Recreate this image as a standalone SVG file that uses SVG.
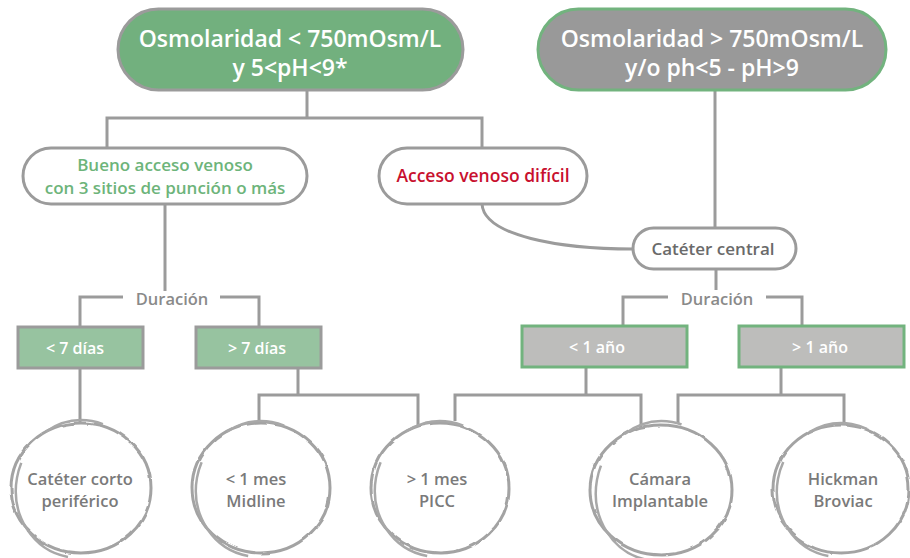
<svg xmlns="http://www.w3.org/2000/svg" width="910" height="558" viewBox="0 0 910 558">
<defs>
<filter id="rough" x="-10%" y="-10%" width="120%" height="120%">
<feTurbulence type="fractalNoise" baseFrequency="0.06" numOctaves="2" seed="3" result="n"/>
<feDisplacementMap in="SourceGraphic" in2="n" scale="3" xChannelSelector="R" yChannelSelector="G"/>
</filter>
</defs>
<style>
text{font-family:"Open Sans","Liberation Sans",sans-serif;font-weight:600;text-anchor:middle}
.conn{fill:none;stroke:#9b9b9b;stroke-width:3}
.top{font-size:23px;fill:#fff}
.pill{fill:#fff;stroke:#9b9b9b;stroke-width:3}
.box{font-size:16px;fill:#fff}
.gbox{fill:#97c3a0;stroke:#9b9b9b;stroke-width:3}
.ybox{fill:#bdbdbb;stroke:#72b37e;stroke-width:3}
.ring{fill:#fff;stroke:#a3a3a3;stroke-width:3}
.ring2{fill:none;stroke:#a8a8a8;stroke-width:2.5;stroke-dasharray:120 40 60 200}
.ct{font-size:16.5px;fill:#7a7a7a}
.dur{font-size:16.5px;fill:#8a8a8a}
</style>
<g id="connectors">
<path class="conn" d="M307 90V118M107 147V118H482V148"/>
<path class="conn" d="M715 90V228"/>
<path class="conn" d="M482 204C484 236 560 249 633 249"/>
<path class="conn" d="M165 204V291"/>
<path class="conn" d="M123 297H80V327M220 297H259V327"/>
<path class="conn" d="M716 269V290"/>
<path class="conn" d="M668 297H623V326M766 297H802V326"/>
<path class="conn" d="M80 368V422"/>
<path class="conn" d="M298 368V395M259 423V395H418V426"/>
<path class="conn" d="M586 367V395M455 421V395H641V428"/>
<path class="conn" d="M781 367V395M678 424V395H844V426"/>
</g>
<g id="n-osm-low">
<rect x="118" y="9" width="345" height="81" rx="40.5" fill="#72b07e" stroke="#9b9b9b" stroke-width="3"/>
<text class="top" x="290" y="47">Osmolaridad &lt; 750mOsm/L</text>
<text class="top" x="290" y="76">y 5&lt;pH&lt;9*</text>
</g>
<g id="n-osm-high">
<rect x="538" y="9" width="348" height="81" rx="40.5" fill="#999999" stroke="#72b37e" stroke-width="3"/>
<text class="top" x="712" y="47">Osmolaridad &gt; 750mOsm/L</text>
<text class="top" x="712" y="76">y/o ph&lt;5 - pH&gt;9</text>
</g>
<g id="n-bueno">
<rect class="pill" x="23" y="148" width="284" height="56" rx="28"/>
<text x="165" y="171" font-size="17" fill="#6db47a">Bueno acceso venoso</text>
<text x="165" y="194" font-size="17" fill="#6db47a">con 3 sitios de punción o más</text>
</g>
<g id="n-acceso">
<rect class="pill" x="379" y="148" width="208" height="56" rx="28"/>
<text x="483" y="182" font-size="17.5" fill="#c8102e">Acceso venoso difícil</text>
</g>
<g id="n-central">
<rect class="pill" x="633" y="228" width="163" height="41" rx="20.5"/>
<text x="713" y="255" font-size="17" fill="#6a6a6a">Catéter central</text>
</g>
<g id="n-dur1">
<text class="dur" x="172" y="305">Duración</text>
</g>
<g id="n-dur2">
<text class="dur" x="717" y="305">Duración</text>
</g>
<g id="n-lt7">
<rect class="gbox" x="18" y="327" width="125" height="41"/>
<text class="box" x="75" y="354">&lt; 7 días</text>
</g>
<g id="n-gt7">
<rect class="gbox" x="196" y="327" width="125" height="41"/>
<text class="box" x="257" y="354">&gt; 7 días</text>
</g>
<g id="n-lt1a">
<rect class="ybox" x="522" y="326" width="165" height="41"/>
<text class="box" x="597" y="353">&lt; 1 año</text>
</g>
<g id="n-gt1a">
<rect class="ybox" x="739" y="326" width="165" height="41"/>
<text class="box" x="820" y="353">&gt; 1 año</text>
</g>
<g id="n-corto">
<ellipse class="ring" cx="81" cy="488" rx="70" ry="65" filter="url(#rough)"/>
<ellipse class="ring2" cx="80" cy="489" rx="69" ry="64" transform="rotate(100 80 489)"/>
<text class="ct" x="80" y="485">Catéter corto</text>
<text class="ct" x="80" y="507">periférico</text>
</g>
<g id="n-midline">
<ellipse class="ring" cx="261" cy="488" rx="69" ry="65" filter="url(#rough)"/>
<ellipse class="ring2" cx="260" cy="489" rx="68" ry="64" transform="rotate(100 260 489)"/>
<text class="ct" x="256" y="485">&lt; 1 mes</text>
<text class="ct" x="256" y="507">Midline</text>
</g>
<g id="n-picc">
<ellipse class="ring" cx="440" cy="488" rx="69" ry="65" filter="url(#rough)"/>
<ellipse class="ring2" cx="439" cy="489" rx="68" ry="64" transform="rotate(100 439 489)"/>
<text class="ct" x="437" y="485">&gt; 1 mes</text>
<text class="ct" x="437" y="507">PICC</text>
</g>
<g id="n-camara">
<ellipse class="ring" cx="661" cy="490" rx="71" ry="65" filter="url(#rough)"/>
<ellipse class="ring2" cx="660" cy="491" rx="70" ry="64" transform="rotate(100 660 491)"/>
<text class="ct" x="660" y="485">Cámara</text>
<text class="ct" x="660" y="507">Implantable</text>
</g>
<g id="n-hickman">
<ellipse class="ring" cx="841" cy="489" rx="68" ry="64" filter="url(#rough)"/>
<ellipse class="ring2" cx="840" cy="490" rx="67" ry="63" transform="rotate(100 840 490)"/>
<text class="ct" x="843" y="485">Hickman</text>
<text class="ct" x="843" y="507">Broviac</text>
</g>
</svg>
